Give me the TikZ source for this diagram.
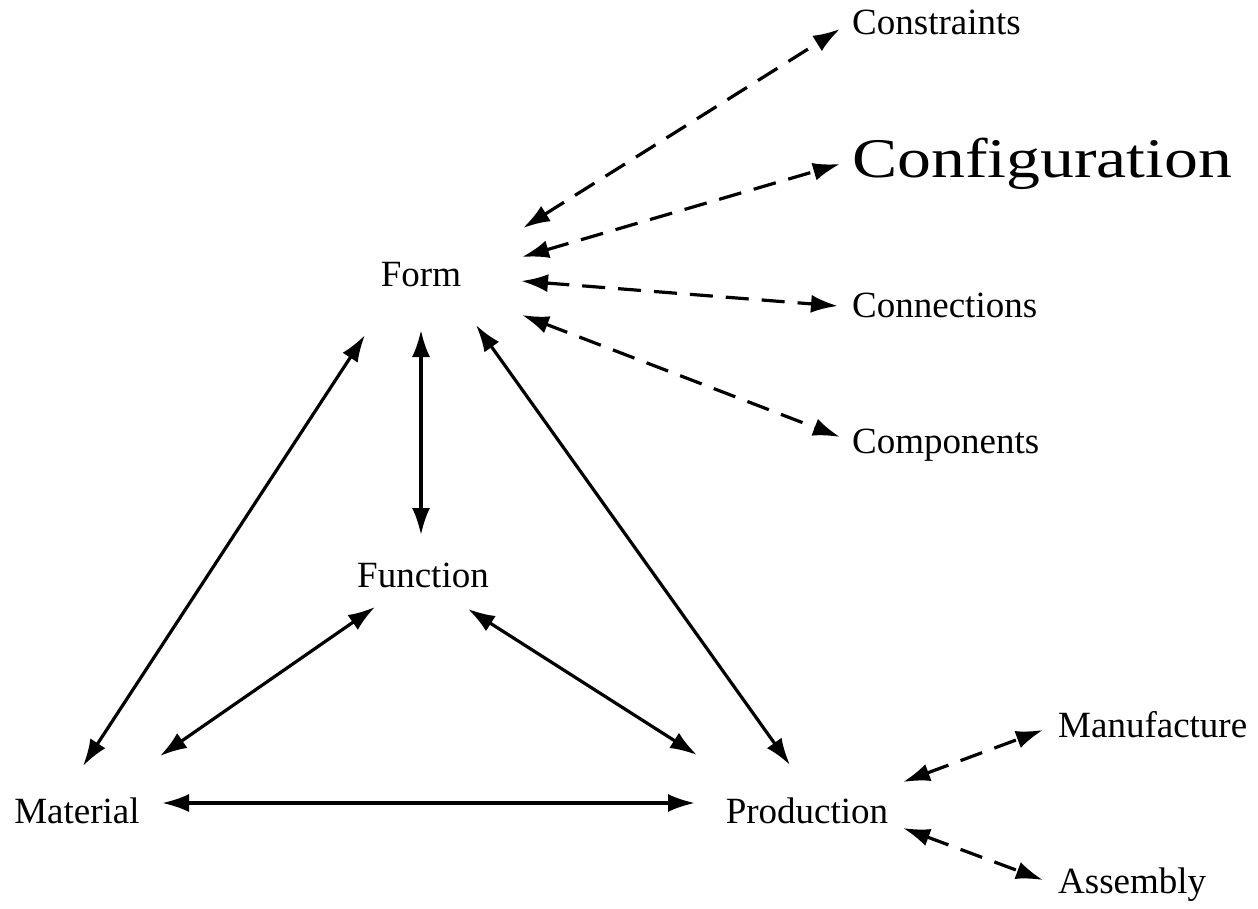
\documentclass[tikz,border=0pt]{standalone}
\usepackage{fontspec}
\setmainfont{Liberation Serif}
\usetikzlibrary{arrows.meta}
\begin{document}
\begin{tikzpicture}[x=1pt,y=-1pt,
  lbl/.style={inner sep=0pt, anchor=base, font=\fontsize{37}{40}\selectfont},
  lblw/.style={lbl, anchor=base west},
  big/.style={inner sep=0pt, anchor=base west, font=\fontsize{56}{60}\selectfont},
  link/.style={line width=3.2pt, {Latex[length=27pt,width=18pt]}-{Latex[length=27pt,width=18pt]}},
  dlink/.style={link, dash pattern=on 23pt off 13pt}]
\useasboundingbox (0,0) rectangle (1258,909);
\node[lbl] (form) at (421,287) {Form};
\node[lbl] (func) at (423,587) {Function};
\node[lbl] (mat) at (77,823) {Material};
\node[lbl] (prod) at (807,823) {Production};
\node[lblw] (cons) at (852,35) {Constraints};
\node[big] (conf) at (852,178) {\scalebox{1.21}[1]{Configuration}};
\node[lblw] (conn) at (852,317) {Connections};
\node[lblw] (comp) at (852,453) {Components};
\node[lblw] (manu) at (1058,737) {Manufacture};
\node[lblw] (asse) at (1058,893) {Assembly};
% solid links
\draw[link] ([shift={(-56,48)}]form.base) -- ([shift={(6,-57)}]mat.base);
\draw[link] ([shift={(0,43)}]form.base) -- ([shift={(-2,-52)}]func.base);
\draw[link] ([shift={(55,38)}]form.base) -- ([shift={(-17,-58)}]prod.base);
\draw[link] ([shift={(-48,20)}]func.base) -- ([shift={(83,-67)}]mat.base);
\draw[link] ([shift={(45,22)}]func.base) -- ([shift={(-110,-68)}]prod.base);
\draw[link] ([shift={(85,-20)}]mat.base) -- ([shift={(-112,-20)}]prod.base);
% dashed links
\draw[dlink] ([shift={(102,-59)}]form.base) -- ([shift={(-12,-6)}]cons.base west);
\draw[dlink] ([shift={(101,-30)}]form.base) -- ([shift={(-12,-14)}]conf.base west);
\draw[dlink] ([shift={(100,-6)}]form.base) -- ([shift={(-14,-11)}]conn.base west);
\draw[dlink] ([shift={(101,28)}]form.base) -- ([shift={(-12,-16)}]comp.base west);
\draw[dlink] ([shift={(96,-41)}]prod.base) -- ([shift={(-15,-7)}]manu.base west);
\draw[dlink] ([shift={(96,5)}]prod.base) -- ([shift={(-15,-13)}]asse.base west);
\end{tikzpicture}
\end{document}
